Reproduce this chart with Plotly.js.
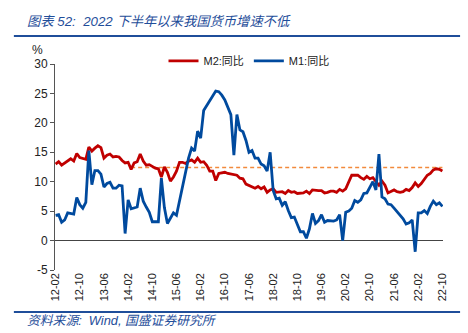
<!DOCTYPE html>
<html><head><meta charset="utf-8">
<script src="https://cdn.plot.ly/plotly-3.0.1.min.js"></script>
<style>html,body{margin:0;padding:0;background:#fff}#c{width:468px;height:333px}</style>
</head><body><div id="c"></div>
<script>
// Months 2012-02 .. 2022-10
const months = [];
for (let y = 2012; y <= 2022; y++) for (let m = 1; m <= 12; m++) {
  if ((y === 2012 && m < 2) || (y === 2022 && m > 10)) continue;
  months.push(String(y).slice(2) + '-' + String(m).padStart(2, '0'));
}
const m2 = [13.0,13.4,12.8,13.2,13.6,13.9,13.5,14.8,14.1,13.9,13.8,
  15.9,15.2,15.7,16.1,15.8,14.0,14.5,14.7,14.2,14.3,14.2,13.6,
  13.2,13.3,12.1,13.2,13.4,14.7,13.5,12.8,12.9,12.6,12.3,12.2,
  10.8,12.5,11.6,10.1,10.8,11.8,13.3,13.3,13.1,13.5,13.7,13.3,
  14.0,13.3,13.4,12.8,11.8,11.8,10.2,11.4,11.5,11.6,11.4,11.3,
  11.3,11.1,10.6,10.5,9.6,9.4,9.2,8.9,9.2,8.8,9.1,8.2,
  8.6,8.8,8.2,8.3,8.3,8.0,8.5,8.2,8.3,8.0,8.0,8.1,
  8.4,8.0,8.6,8.5,8.5,8.5,8.1,8.2,8.4,8.4,8.2,8.7,
  8.4,8.8,10.1,11.1,11.1,11.1,10.7,10.4,10.9,10.5,10.7,10.1,
  9.4,10.1,9.4,8.1,8.3,8.6,8.3,8.2,8.3,8.7,8.5,9.0,
  9.8,9.2,9.7,10.5,11.1,11.4,12.0,12.2,12.1,11.8];
const m1 = [4.3,4.4,3.1,3.5,4.7,4.6,4.5,7.3,6.1,5.5,6.5,
  15.3,9.5,11.9,11.9,11.3,9.1,9.7,9.9,8.9,8.9,9.4,9.3,
  1.2,6.9,5.4,5.5,5.7,8.9,6.7,5.7,4.8,3.2,3.2,3.2,
  10.6,5.6,2.9,3.7,4.7,4.3,6.6,9.3,11.4,14.0,15.7,15.2,
  18.6,17.4,22.1,22.9,23.7,24.6,25.4,25.3,24.7,23.9,22.7,21.4,
  14.5,21.4,18.8,18.5,17.0,15.0,15.3,14.0,14.0,13.0,12.7,11.8,
  15.0,8.5,7.1,7.2,6.0,6.6,5.1,3.9,4.0,2.7,1.5,1.5,
  0.4,2.0,4.6,2.9,3.4,4.4,3.1,3.4,3.4,3.3,3.5,4.4,
  0.0,4.8,5.0,5.5,6.8,6.5,6.9,8.0,8.1,9.1,10.0,8.6,
  14.7,7.4,7.1,6.2,6.1,5.5,4.9,4.2,3.7,2.8,3.0,3.5,
  -1.9,4.7,4.7,5.1,4.6,5.8,6.7,6.1,6.4,5.8];
const refStart = '14-03', refEnd = '22-10', refLevel = 12.4;
const tickLabels = months.filter((_, i) => i % 8 === 0);
const yTicks = [-5,0,5,10,15,20,25,30];
const yTickText = ['-5','0','5','10','15','20','25','30'];

const refX = months.slice(months.indexOf(refStart), months.indexOf(refEnd) + 1);
const traces = [
  {x: refX, y: refX.map(() => refLevel), type: 'scatter', mode: 'lines',
   line: {color: '#F28A3C', width: 1.5, dash: '4px,3px'}, showlegend: false, hoverinfo: 'skip'},
  {x: months, y: m2, name: 'M2:同比', type: 'scatter', mode: 'lines',
   line: {color: '#C00000', width: 2.8}},
  {x: months, y: m1, name: 'M1:同比', type: 'scatter', mode: 'lines',
   line: {color: '#004A9E', width: 2.8}}
];
const blue = '#1F4E9A';
const cjk = 'Liberation Sans, Noto Sans CJK SC';
const layout = {
  width: 468, height: 333,
  margin: {l: 55, r: 25, t: 64, b: 63},
  paper_bgcolor: '#fff', plot_bgcolor: '#fff',
  font: {family: 'Liberation Sans, Arial, sans-serif', color: '#222', size: 12},
  showlegend: true,
  legend: {orientation: 'h', x: 0.5, xanchor: 'center', y: 1.015, yanchor: 'middle',
           font: {size: 11, family: cjk}, bgcolor: 'rgba(0,0,0,0)'},
  xaxis: {type: 'category', categoryorder: 'array', categoryarray: months,
          range: [-0.2, months.length - 0.8],
          tickmode: 'array', tickvals: tickLabels, ticktext: tickLabels,
          tickangle: -90, tickfont: {size: 11}, showgrid: false, showline: false,
          zeroline: false, ticks: '', ticklen: 0},
  yaxis: {range: [-5, 30], tickmode: 'array', tickvals: yTicks, ticktext: yTickText,
          showgrid: false, showline: true,
          linecolor: '#555', linewidth: 1, ticks: 'outside', ticklen: 4, tickcolor: '#555',
          zeroline: true, zerolinecolor: '#444', zerolinewidth: 1, tickfont: {size: 12}},
  annotations: [
    {text: '%', xref: 'paper', yref: 'paper', x: -0.045, y: 1.068, xanchor: 'center', yanchor: 'middle',
     showarrow: false, font: {size: 12, color: '#222'}},
    {text: '图表 52:  2022 下半年以来我国货币增速不低', xref: 'paper', yref: 'paper',
     x: -0.077, y: 1.204, xanchor: 'left', yanchor: 'middle', showarrow: false,
     font: {size: 13.3, color: blue, style: 'italic', family: cjk}},
    {text: '资料来源:  Wind, 国盛证券研究所', xref: 'paper', yref: 'paper',
     x: -0.077, y: -0.245, xanchor: 'left', yanchor: 'middle', showarrow: false,
     font: {size: 12.8, color: blue, style: 'italic', family: cjk}}
  ],
  shapes: [
    {type: 'line', xref: 'paper', yref: 'paper', x0: -0.106, x1: 1.044, y0: 1.136, y1: 1.136,
     line: {color: blue, width: 2}},
    {type: 'line', xref: 'paper', yref: 'paper', x0: -0.106, x1: 1.044, y0: -0.204, y1: -0.204,
     line: {color: blue, width: 2}}
  ]
};
Plotly.newPlot('c', traces, layout, {displayModeBar: false, staticPlot: true});
</script></body></html>
